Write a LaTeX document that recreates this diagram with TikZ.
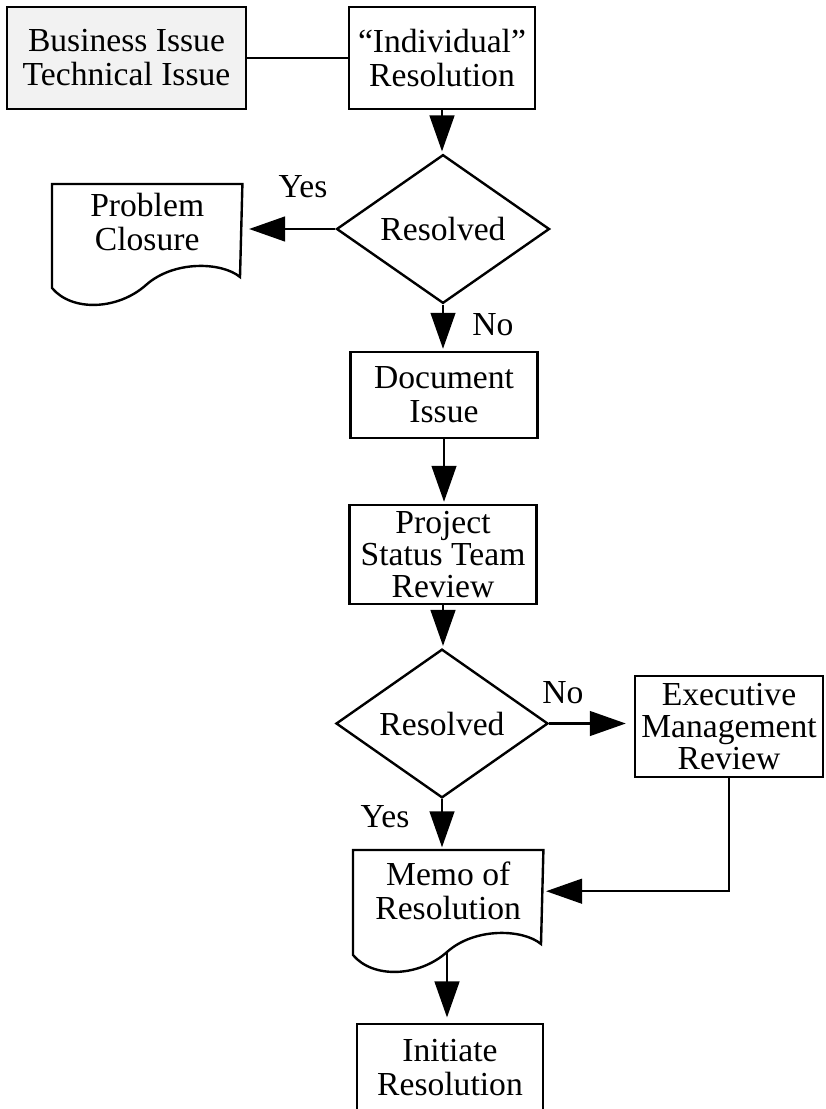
\documentclass[tikz,border=0pt]{standalone}
\usepackage{fontspec}
\setmainfont{Liberation Serif}
\usetikzlibrary{shapes.geometric,arrows.meta}
\newcommand\myfontA{\fontsize{25.2}{25.5}\selectfont\lineskiplimit=-20pt}
\newcommand\myfontB{\fontsize{25.2}{24}\selectfont\lineskiplimit=-20pt}
\begin{document}
\begin{tikzpicture}[x=0.75pt,y=-0.75pt,line width=1.8pt,
  box/.style={draw,rectangle,align=center,inner sep=0pt,font=\myfontA},
  dia/.style={draw,diamond,align=center,inner sep=0pt,font=\myfontA},
  docbox/.style={rectangle,align=center,inner sep=0pt,font=\myfontA,anchor=north west,minimum width=141pt},
  lbl/.style={inner sep=0pt,font=\myfontA},
  arr/.style={-{Triangle[length=27pt,width=18.5pt]},shorten >=1.5pt}]
\useasboundingbox (0,0) rectangle (825,1109);
\clip (0,0) rectangle (825,1109);

\node[box,fill=black!5,minimum width=179.25pt,minimum height=76.5pt] (bi) at (126.5,58) {Business Issue\\Technical Issue};
\node[box,minimum width=139.5pt,minimum height=76.5pt] (ir) at (442,58) {``Individual''\\Resolution};
\node[dia,minimum width=159.75pt,minimum height=90pt] (d1) at (443,229) {Resolved};
\node[docbox,minimum height=54.75pt] (pcbox) at (52,184) {Problem\\Closure};
\node[box,minimum width=140.25pt,minimum height=64.5pt] (di) at (444,395) {Document\\Issue};
\node[box,font=\myfontB,minimum width=140.25pt,minimum height=74.25pt] (ps) at (443,554.5) {Project\\Status Team\\Review};
\node[dia,minimum width=159pt,minimum height=90.75pt] (d2) at (442,723.5) {Resolved};
\node[box,font=\myfontB,minimum width=141pt,minimum height=75.75pt] (exec) at (729,726.5) {Executive\\Management\\Review};
\node[docbox,minimum height=60pt] (memobox) at (353,850) {Memo of\\Resolution};
\node[box,minimum width=139.5pt,minimum height=66pt] (init) at (450,1068) {Initiate\\Resolution};

\node[lbl] (yes1) at (303,187) {Yes};
\node[lbl] (no1) at (493,325) {No};
\node[lbl] (no2) at (563,693) {No};
\node[lbl] (yes2) at (385,817) {Yes};

% document outlines
\draw (pcbox.north west) -- ++(0,104)
  .. controls +(20,24) and +(-28,25) .. ++(94,-3)
  .. controls +(28,-25) and +(-18,-15) .. ++(94,-8)
  -- (pcbox.north east) -- cycle;
\draw (memobox.north west) -- ++(0,105)
  .. controls +(20,24) and +(-28,25) .. ++(94,-3) coordinate (memowave)
  .. controls +(28,-25) and +(-18,-15) .. ++(94,-8)
  -- (memobox.north east) -- cycle;

% connectors
\draw (bi.east) -- (ir.west);
\draw[arr] (ir.south) -- (ir.south |- d1.north);
\draw[arr,shorten >=5pt] (d1.west) -- (d1.west -| pcbox.east);
\draw[arr] (d1.south) -- (d1.south |- di.north);
\draw[arr] (di.south) -- (di.south |- ps.north);
\draw[arr] (ps.south) -- (ps.south |- d2.north);
\draw[arr,shorten >=6pt] (d2.east) -- (d2.east -| exec.west);
\draw[arr,shorten >=2pt] (exec.south) |- (memobox.east);
\draw[arr,shorten >=2pt] (d2.south) -- (d2.south |- memobox.north);
\draw[arr,shorten >=4pt] (memowave) -- (memowave |- init.north);
\end{tikzpicture}
\end{document}
